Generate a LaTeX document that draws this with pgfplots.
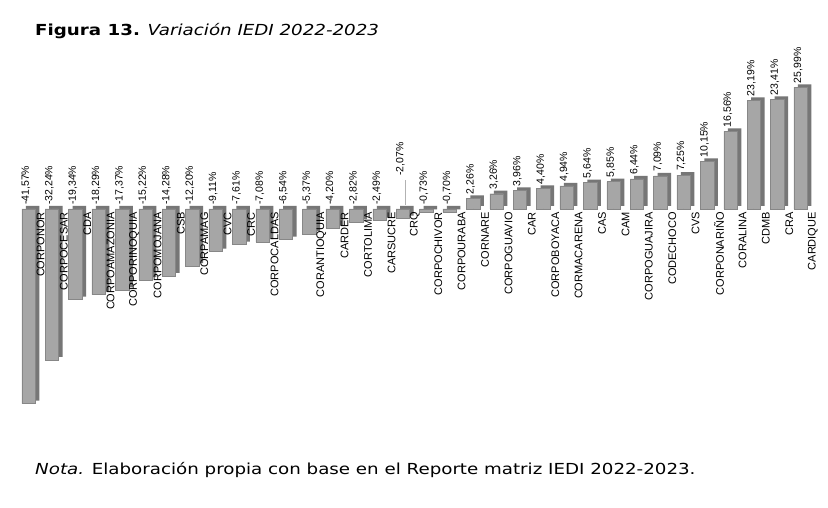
\documentclass[border=0pt]{standalone}
\usepackage{fontspec}
\setmainfont{Liberation Sans}
\newfontfamily\verd[FakeStretch=1.2]{DejaVu Sans}
\usepackage{pgfplots}
\pgfplotsset{compat=1.18}
\definecolor{barfront}{RGB}{166,166,166}
\definecolor{baredge}{RGB}{135,135,135}
\definecolor{barside}{RGB}{118,118,118}
\begin{document}
\begin{tikzpicture}
\useasboundingbox (0,0) rectangle (828pt,508pt);
\fill[white] (0,0) rectangle (828pt,508pt);
\node[anchor=base west, inner sep=0pt, font=\verd\fontsize{15.2}{18}\selectfont] at (35pt,472pt) {\textbf{Figura 13.} \textit{Variación IEDI 2022-2023}};
\node[anchor=base west, inner sep=0pt, font=\verd\fontsize{15.2}{18}\selectfont] at (35pt,33pt) {\textit{Nota.} Elaboración propia con base en el Reporte matriz IEDI 2022-2023.};
\begin{axis}[
  at={(16.8pt,88.4pt)}, anchor=south west,
  x=23.4pt, y=4.68pt,
  xmin=-0.5, xmax=33.5, ymin=-45, ymax=30,
  hide axis, clip=false,
  bar width=13.5pt,
]
% side / depth of the bars
\addplot[ybar, bar shift=0pt, fill=barside, draw=none, xshift=4pt, yshift=3pt] coordinates {
(0,-41.57) (1,-32.24) (2,-19.34) (3,-18.29) (4,-17.37) (5,-15.22) (6,-14.28) (7,-12.20)
(8,-9.11) (9,-7.61) (10,-7.08) (11,-6.54) (12,-5.37) (13,-4.20) (14,-2.82) (15,-2.49)
(16,-2.07) (17,-0.73) (18,-0.70) (19,2.26) (20,3.26) (21,3.96) (22,4.40) (23,4.94)
(24,5.64) (25,5.85) (26,6.44) (27,7.09) (28,7.25) (29,10.15) (30,16.56) (31,23.19)
(32,23.41) (33,25.99)};
% front of the bars
\addplot[ybar, bar shift=0pt, fill=barfront, draw=baredge, line width=0.4pt] coordinates {
(0,-41.57) (1,-32.24) (2,-19.34) (3,-18.29) (4,-17.37) (5,-15.22) (6,-14.28) (7,-12.20)
(8,-9.11) (9,-7.61) (10,-7.08) (11,-6.54) (12,-5.37) (13,-4.20) (14,-2.82) (15,-2.49)
(16,-2.07) (17,-0.73) (18,-0.70) (19,2.26) (20,3.26) (21,3.96) (22,4.40) (23,4.94)
(24,5.64) (25,5.85) (26,6.44) (27,7.09) (28,7.25) (29,10.15) (30,16.56) (31,23.19)
(32,23.41) (33,25.99)};
% leader line of CRQ
\addplot[gray!60, line width=0.5pt] coordinates {(16.12,0.9) (16.12,6.2)};
% value labels
\addplot[only marks, mark=*, mark size=0pt, mark options={draw=none,fill=none},
  point meta=explicit symbolic, nodes near coords,
  nodes near coords style={rotate=90, anchor=west, inner sep=1pt, xshift=3pt, yshift=2.5pt,
    font=\fontsize{10.5}{12}\selectfont, text=black}] coordinates {
(0,0)[-41,57\%] (1,0)[-32,24\%] (2,0)[-19,34\%] (3,0)[-18,29\%] (4,0)[-17,37\%]
(5,0)[-15,22\%] (6,0)[-14,28\%] (7,0)[-12,20\%] (8,0)[-9,11\%] (9,0)[-7,61\%]
(10,0)[-7,08\%] (11,0)[-6,54\%] (12,0)[-5,37\%] (13,0)[-4,20\%] (14,0)[-2,82\%]
(15,0)[-2,49\%] (16,6.2)[-2,07\%] (17,0)[-0,73\%] (18,0)[-0,70\%] (19,2.26)[2,26\%]
(20,3.26)[3,26\%] (21,3.96)[3,96\%] (22,4.40)[4,40\%] (23,4.94)[4,94\%] (24,5.64)[5,64\%]
(25,5.85)[5,85\%] (26,6.44)[6,44\%] (27,7.09)[7,09\%] (28,7.25)[7,25\%] (29,10.15)[10,15\%]
(30,16.56)[16,56\%] (31,23.19)[23,19\%] (32,23.41)[23,41\%] (33,25.99)[25,99\%]};
% category labels
\addplot[only marks, mark=*, mark size=0pt, mark options={draw=none,fill=none},
  point meta=explicit symbolic, nodes near coords,
  nodes near coords style={rotate=90, anchor=east, inner sep=0pt, xshift=-3pt, yshift=-12pt,
    font=\fontsize{11}{12}\selectfont, text=black}] coordinates {
(0,0)[CORPONOR] (1,0)[CORPOCESAR] (2,0)[CDA] (3,0)[CORPOAMAZONIA] (4,0)[CORPORINOQUIA]
(5,0)[CORPOMOJANA] (6,0)[CSB] (7,0)[CORPAMAG] (8,0)[CVC] (9,0)[CRC] (10,0)[CORPOCALDAS]
(12,0)[CORANTIOQUIA] (13,0)[CARDER] (14,0)[CORTOLIMA] (15,0)[CARSUCRE] (16,0)[CRQ]
(17,0)[CORPOCHIVOR] (18,0)[CORPOURABA] (19,0)[CORNARE] (20,0)[CORPOGUAVIO] (21,0)[CAR]
(22,0)[CORPOBOYACA] (23,0)[CORMACARENA] (24,0)[CAS] (25,0)[CAM] (26,0)[CORPOGUAJIRA]
(27,0)[CODECHOCO] (28,0)[CVS] (29,0)[CORPONARIÑO] (30,0)[CORALINA] (31,0)[CDMB]
(32,0)[CRA] (33,0)[CARDIQUE]};
\end{axis}
\end{tikzpicture}
\end{document}
